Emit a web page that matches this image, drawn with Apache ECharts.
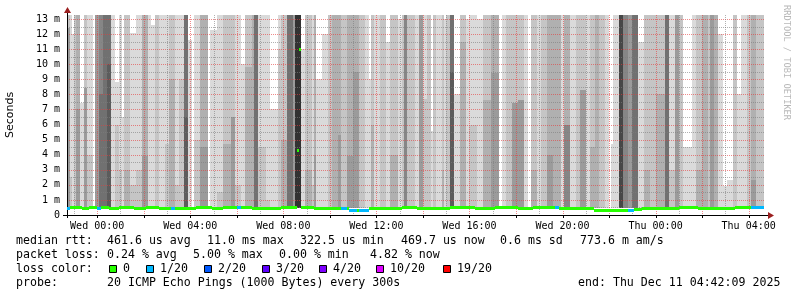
<!DOCTYPE html>
<html><head><meta charset="utf-8">
<script src="https://cdn.jsdelivr.net/npm/echarts@6/dist/echarts.min.js"></script>
<style>html,body{margin:0;padding:0;background:#fff}#c{width:797px;height:297px}</style>
</head><body><div id="c"></div><script>
// ---------------- data ----------------
const STEP_MS = 300 * 1000;                       // smokeping step: 300 s
const dataStart = Date.UTC(2025, 11, 9, 22, 40, 0);
const axisStart = Date.UTC(2025, 11, 9, 22, 42, 9);
const axisEnd   = Date.UTC(2025, 11, 11, 4, 42, 9);
const yMax = 13.27;                               // ms, top of graph

// smoke runs: [number of 5-min steps, elevated ping RTTs in ms (14 = above graph top)]
const smokeRuns = [
 [1,[14,14]],[1,[14,14,12.4,12.4]],[1,[14,2.5]],[1,[12]],[1,[14,14]],
 [2,[14,14,14,7]],[2,[7.4]],[2,[14,14,8.4,8.4]],[3,[14,4]],[1,[]],
 [2,[14,14,14,14]],[2,[14,14,14,14,14,8]],[2,[14,14,14,14,14,14]],[2,[14,14,14,14,14,14,10]],
 [2,[14]],[2,[8.8,6]],[2,[14,3]],[1,[6.5]],[3,[14,14,3]],[3,[12.1,2]],[3,[14,3]],
 [3,[14,14,14,3.9]],[2,[14]],[2,[12.6]],[2,[14,14]],[3,[14]],
 [2,[14,4.7]],[3,[14,14,9]],[2,[14,2]],[3,[14,9]],[2,[14,14,14,14,14,14,6.5]],
 [2,[11.6]],[1,[]],[3,[14,5]],[4,[14,14,14,4.5]],[1,[]],[4,[12.3]],[3,[14,1.5]],
 [4,[14,14,4.7]],[2,[14,14,6.5,6.5]],[3,[14,2]],[2,[10]],[4,[14,14,9.8]],[1,[14,14,14]],
 [2,[14,14,14,14,14,14]],[4,[14,4.5]],
 [2,[14,1]],[4,[7]],[2,[14,11]],[3,[14,14,5]],[3,[14,14,14,14,14,14]],[1,[14,14,14,14]],
 [3,[14,14,14,14,14,14,14,14,14]],[2,[11]],[4,[14,14,3]],[1,[14,2]],[1,[14,14,14,4]],
 [3,[9]],[3,[12]],[2,[14,14]],[3,[14,14,14]],[2,[14,14,14,5.3]],[3,[14,14]],
 [3,[14,14,14,3.9]],[3,[14,14,14,9.5]],[3,[14,14]],
 [2,[14]],[1,[9]],[2,[14,14,6]],[3,[14]],[3,[14,14]],[2,[11.5]],[4,[14,14,4]],[2,[13]],
 [1,[14,14]],[2,[14,14,14,14,14]],[4,[14,14]],[2,[14]],[2,[14,14,14,14]],[2,[14,7.7]],
 [2,[14,14]],[1,[5.6]],[2,[14,14]],[3,[14]],[1,[14,14,3]],[1,[13]],[2,[14,14]],
 [2,[14,14,14,14,14,14,9.5]],[3,[8]],[3,[14,14,11.5]],
 [2,[13]],[4,[14,6]],[3,[13]],[4,[14,14,7.6]],[4,[14,14,14,9.4]],[2,[]],[2,[14]],
 [3,[14,14]],[3,[14,14,7.4,7.4]],[3,[14,14,7.6,7.6]],[2,[14]],[2,[]],[3,[14,14,3]],
 [2,[14]],[3,[14,14]],[3,[14,14,14,4]],[4,[14,14,14]],[2,[14]],
 [3,[14,14,14,6,6]],[3,[14]],[2,[14,14]],[3,[14,14,8.3,8.3]],[2,[14]],[3,[14,14,4.5]],
 [2,[14,14,14]],[3,[14,14]],[2,[14]],[1,[]],[1,[4.7]],[3,[14]],
 [2,[14,14,14,14,14,14,14,14]],[3,[14,14,14,14,14]],[2,[14,14,14,14]],
 [3,[14,14,14,14,14,14]],[3,[11.5]],[3,[14,14,3]],[3,[14,14]],[5,[14,14,8]],
 [2,[14,14,14,14,14,14]],[3,[14,3]],[2,[14,14,14,14]],[2,[14,14]],[5,[4.5]],[2,[14]],
 [3,[14,14,3]],[3,[14,14,14]],[1,[14,14]],[2,[14,14,14,14]],[2,[14,14,14]],[3,[12]],
 [2,[1.9]],[3,[2.3]],[2,[14,14]],[2,[8]],[3,[14]],[2,[14,14]],[3,[14,14,14,2.3]],[4,[14,14]]
];

// median runs: [number of 5-min steps, median RTT in ms, loss colour index]
const medianRuns = [
 [2,0.46,1],[6,0.47,0],[4,0.44,0],[4,0.48,0],[2,0.46,1],[4,0.47,0],[5,0.40,0],[8,0.47,0],
 [6,0.44,0],[7,0.48,0],[6,0.45,0],[2,0.46,1],[5,0.43,0],[6,0.46,0],[8,0.48,0],[6,0.45,0],
 [7,0.47,0],[2,0.47,1],[6,0.49,0],[9,0.46,0],[6,0.44,0],[4,0.48,0],[4,0.52,0],[1,4.3,0],
 [1,11.0,0],[7,0.47,0],[7,0.43,0],[7,0.46,0],[3,0.45,1],[1,0.42,0],[4,0.30,1],[1,0.32,0],
 [5,0.31,1],[10,0.46,0],[7,0.43,0],[8,0.47,0],[10,0.44,0],[7,0.40,0],[13,0.47,0],
 [10,0.44,0],[12,0.47,0],[8,0.45,0],[11,0.47,0],[2,0.47,1],[10,0.46,0],[8,0.44,0],
 [18,0.33,0],[3,0.33,1],[4,0.34,0],[9,0.46,0],[10,0.44,0],[10,0.47,0],[10,0.42,0],
 [9,0.46,0],[8,0.47,0],[7,0.47,1]
];

const lossLabels = ['0','1/20','2/20','3/20','4/20','10/20','19/20'];
const lossColors = ['#26ff00','#00b8ff','#0059ff','#5e00ff','#7e00ff','#dd00ff','#ff0000'];

const medianStats = ['461.6 us avg','11.0 ms max','322.5 us min','469.7 us now','0.6 ms sd','773.6 m am/s'];
const lossStats = ['0.24 % avg','5.00 % max','0.00 % min','4.82 % now'];
const probeText = '20 ICMP Echo Pings (1000 Bytes) every 300s';
const endText = 'end: Thu Dec 11 04:42:09 2025';
const dayNames = ['Sun','Mon','Tue','Wed','Thu','Fri','Sat'];

// ---------------- build items ----------------
const SMOKE_N = 18, SMOKE_BASE = 0.46;
function shade(c) {
  const half = SMOKE_N / 2;
  const i = Math.min(c, SMOKE_N - c);
  const v = Math.floor(190 / half * (half - i)) + 50;
  const h = v.toString(16).padStart(2, '0');
  return '#' + h + h + h;
}
const smokeItems = [];
let s = 0;
smokeRuns.forEach((r, idx) => {
  smokeItems.push([dataStart + s * STEP_MS, dataStart + (s + r[0]) * STEP_MS, idx]);
  s += r[0];
});
const medianItems = [];
s = 0;
medianRuns.forEach(r => {
  medianItems.push([dataStart + s * STEP_MS, dataStart + (s + r[0]) * STEP_MS, r[1], r[2]]);
  s += r[0];
});

const MONO = 'DejaVu Sans Mono';
const MAJOR = 'rgba(230,60,60,0.6)';
const MINOR = 'rgba(125,125,125,0.6)';

function pad(n) { return (n < 10 ? '0' : '') + n; }

const chart = echarts.init(document.getElementById('c'), null, {renderer: 'canvas'});

// graphic (text legend block)
const graphic = [];
const row1X = [107, 207, 300, 401, 500, 580];
const row2X = [107, 193, 279, 370];
const boxX = [109, 146, 204, 262, 319, 376, 443];
function txt(x, y, t, extra) {
  return Object.assign({type: 'text', x: x, y: y, silent: true,
    style: {text: t, fontFamily: MONO, fontSize: 11.6, fill: '#000', verticalAlign: 'middle', align: 'left'}}, extra || {});
}
graphic.push(txt(16, 241, 'median rtt:'));
medianStats.forEach((t, i) => graphic.push(txt(row1X[i], 241, t)));
graphic.push(txt(16, 255, 'packet loss:'));
lossStats.forEach((t, i) => graphic.push(txt(row2X[i], 255, t)));
graphic.push(txt(16, 269, 'loss color:'));
lossLabels.forEach((t, i) => {
  graphic.push({type: 'rect', silent: true, shape: {x: boxX[i] + 0.5, y: 265.5, width: 7, height: 7},
    style: {fill: lossColors[i], stroke: '#000', lineWidth: 1}});
  graphic.push(txt(boxX[i] + 14, 269, t));
});
graphic.push(txt(16, 283, 'probe:'));
graphic.push(txt(107, 283, probeText));
graphic.push(txt(578, 283, endText));
graphic.push({type: 'text', x: 786, y: 5, rotation: -Math.PI / 2, silent: true,
  style: {text: 'RRDTOOL / TOBI OETIKER', fontFamily: MONO, fontSize: 8.7, fill: '#b8b8b8', align: 'left', verticalAlign: 'middle'}});

const option = {
  useUTC: true,
  animation: false,
  backgroundColor: '#fff',
  grid: {left: 67, right: 32, top: 15, bottom: 82, containLabel: false, outerBoundsMode: 'none'},
  xAxis: {
    type: 'time', min: axisStart, max: axisEnd,
    minInterval: 4 * 3600e3, maxInterval: 4 * 3600e3,
    axisLine: {show: false}, axisTick: {show: false}, splitLine: {show: false},
    axisLabel: {
      fontFamily: MONO, fontSize: 10, color: '#000', margin: 6, hideOverlap: false,
      showMinLabel: false, showMaxLabel: false,
      formatter: function (v) {
        const d = new Date(v);
        if (d.getUTCMinutes() || d.getUTCSeconds() || d.getUTCHours() % 4) return '';
        return dayNames[d.getUTCDay()] + ' ' + pad(d.getUTCHours()) + ':00';
      }
    }
  },
  yAxis: {
    type: 'value', min: 0, max: yMax, interval: 1,
    name: 'Seconds', nameLocation: 'middle', nameGap: 51, nameRotate: 90,
    nameTextStyle: {fontFamily: 'DejaVu Sans', fontSize: 11, color: '#000'},
    axisLine: {show: false}, axisTick: {show: false}, splitLine: {show: false},
    axisLabel: {
      fontFamily: MONO, fontSize: 10, color: '#000', margin: 7,
      formatter: function (v) {
        if (Math.abs(v - Math.round(v)) > 1e-6) return '';
        return v === 0 ? '0' : Math.round(v) + ' m';
      }
    }
  },
  graphic: graphic,
  series: [
    {
      type: 'custom', name: 'smoke', clip: true, z: 2, silent: true,
      data: smokeItems, encode: {x: [0, 1]},
      renderItem: function (params, api) {
        const t0 = api.value(0), t1 = api.value(1), idx = api.value(2);
        const pings = smokeRuns[idx][1].slice().sort((a, b) => b - a);
        const x0 = Math.round(api.coord([t0, 0])[0]);
        const x1 = Math.round(api.coord([t1, 0])[0]);
        const children = [];
        for (let c = 1; c <= pings.length; c++) {
          const hi = Math.min(pings[c - 1], yMax);
          const lo = c < pings.length ? Math.min(pings[c], yMax) : SMOKE_BASE;
          if (hi <= lo) continue;
          const yHi = Math.round(api.coord([t0, hi])[1]);
          const yLo = Math.round(api.coord([t0, lo])[1]);
          children.push({type: 'rect', shape: {x: x0, y: yHi, width: x1 - x0, height: yLo - yHi},
            style: {fill: shade(c)}});
        }
        return {type: 'group', children: children};
      }
    },
    {
      type: 'custom', name: 'chrome', clip: false, z: 3, silent: true,
      data: [[axisStart, 0]], encode: {x: 0, y: 1},
      renderItem: function (params, api) {
        const lb = api.coord([axisStart, 0]), rt = api.coord([axisEnd, yMax]);
        const xL = Math.round(lb[0]), y0 = Math.round(lb[1]);
        const xR = Math.round(rt[0]), yT = Math.round(rt[1]);
        const ch = [];
        for (let k = 1; k * 0.5 < yMax; k++) {
          const y = Math.round(api.coord([axisStart, k * 0.5])[1]) + 0.5;
          ch.push({type: 'line', shape: {x1: xL, y1: y, x2: xR, y2: y},
            style: {stroke: k % 2 === 0 ? MAJOR : MINOR, lineWidth: 1, lineDash: [1, 1]}});
        }
        const H = 3600e3;
        for (let t = Math.ceil(axisStart / H) * H; t < axisEnd; t += H) {
          const x = Math.round(api.coord([t, 0])[0]) + 0.5;
          const major = new Date(t).getUTCHours() % 2 === 0;
          ch.push({type: 'line', shape: {x1: x, y1: yT, x2: x, y2: y0},
            style: {stroke: major ? MAJOR : MINOR, lineWidth: 1, lineDash: [1, 1]}});
          if (major) ch.push({type: 'line', shape: {x1: x, y1: y0, x2: x, y2: y0 + 3},
            style: {stroke: '#000', lineWidth: 1}});
        }
        ch.push({type: 'line', shape: {x1: xL - 4, y1: y0 + 0.5, x2: xR + 4, y2: y0 + 0.5}, style: {stroke: '#000', lineWidth: 1}});
        ch.push({type: 'line', shape: {x1: xL + 0.5, y1: y0 + 3, x2: xL + 0.5, y2: yT - 3}, style: {stroke: '#000', lineWidth: 1}});
        ch.push({type: 'polygon', shape: {points: [[xR + 3, y0 - 3], [xR + 9, y0 + 0.5], [xR + 3, y0 + 4]]}, style: {fill: '#9b1f1f'}});
        ch.push({type: 'polygon', shape: {points: [[xL - 3, yT - 2], [xL + 0.5, yT - 8], [xL + 4, yT - 2]]}, style: {fill: '#9b1f1f'}});
        return {type: 'group', children: ch};
      }
    },
    {
      type: 'custom', name: 'median', clip: true, z: 4, silent: true,
      data: medianItems, encode: {x: [0, 1], y: 2},
      renderItem: function (params, api) {
        const t0 = api.value(0), t1 = api.value(1), v = api.value(2), loss = api.value(3);
        const x0 = Math.round(api.coord([t0, v])[0]);
        const x1 = Math.round(api.coord([t1, v])[0]);
        const yc = api.coord([t0, v])[1];
        return {type: 'rect', shape: {x: x0, y: Math.round(yc - 1.5), width: x1 - x0, height: 3},
          style: {fill: lossColors[loss]}};
      }
    }
  ]
};
chart.setOption(option);
</script></body></html>
